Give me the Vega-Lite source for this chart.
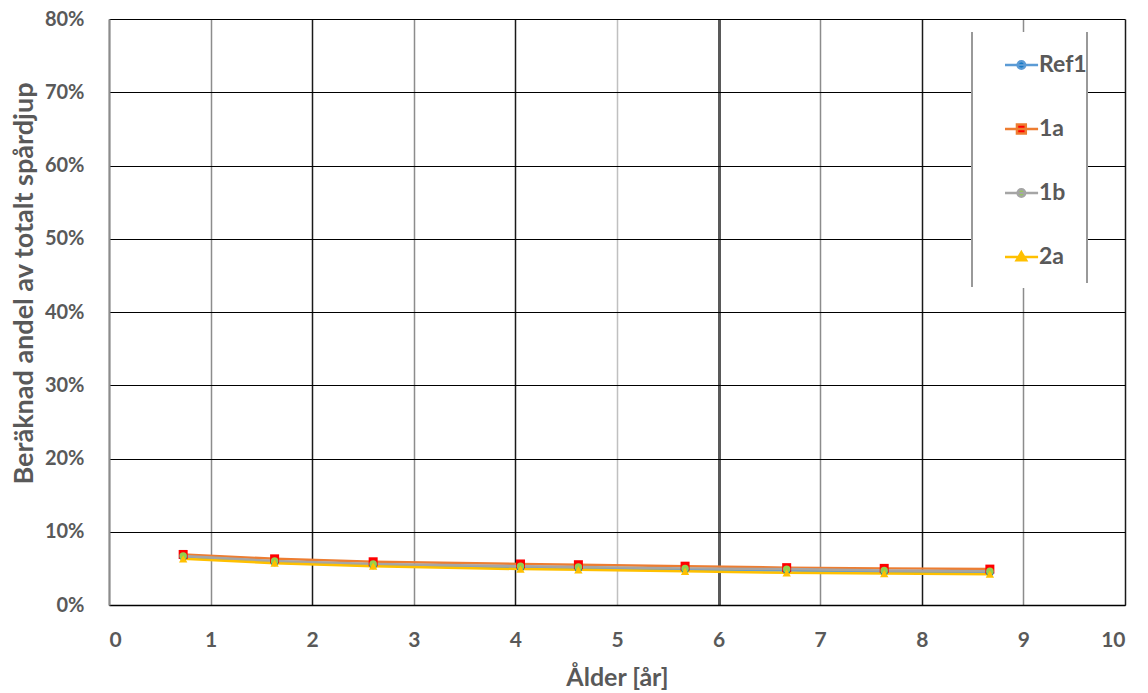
{
  "$schema": "https://vega.github.io/schema/vega-lite/v6.json",
  "width": 1016,
  "height": 586,
  "autosize": {"type": "none"},
  "padding": {"left": 109, "top": 19, "right": 23, "bottom": 88},
  "background": "white",
  "config": {
    "font": "Lato",
    "view": {"stroke": null},
    "axis": {"labelFont": "Lato", "titleFont": "Lato", "labelColor": "#595959", "titleColor": "#595959", "labelFontWeight": "bold", "titleFontWeight": "bold", "labelFontSize": 20, "ticks": false}
  },
  "data": {
    "values": [
      {"serie": "Ref1", "alder": 0.73, "andel": 0.066},
      {"serie": "Ref1", "alder": 1.63, "andel": 0.058},
      {"serie": "Ref1", "alder": 2.6, "andel": 0.054},
      {"serie": "Ref1", "alder": 4.05, "andel": 0.051},
      {"serie": "Ref1", "alder": 4.62, "andel": 0.050},
      {"serie": "Ref1", "alder": 5.67, "andel": 0.048},
      {"serie": "Ref1", "alder": 6.67, "andel": 0.047},
      {"serie": "Ref1", "alder": 7.63, "andel": 0.045},
      {"serie": "Ref1", "alder": 8.67, "andel": 0.044},
      {"serie": "1a", "alder": 0.73, "andel": 0.069},
      {"serie": "1a", "alder": 1.63, "andel": 0.063},
      {"serie": "1a", "alder": 2.6, "andel": 0.059},
      {"serie": "1a", "alder": 4.05, "andel": 0.056},
      {"serie": "1a", "alder": 4.62, "andel": 0.055},
      {"serie": "1a", "alder": 5.67, "andel": 0.053},
      {"serie": "1a", "alder": 6.67, "andel": 0.051},
      {"serie": "1a", "alder": 7.63, "andel": 0.050},
      {"serie": "1a", "alder": 8.67, "andel": 0.049},
      {"serie": "1b", "alder": 0.73, "andel": 0.067},
      {"serie": "1b", "alder": 1.63, "andel": 0.060},
      {"serie": "1b", "alder": 2.6, "andel": 0.056},
      {"serie": "1b", "alder": 4.05, "andel": 0.053},
      {"serie": "1b", "alder": 4.62, "andel": 0.052},
      {"serie": "1b", "alder": 5.67, "andel": 0.050},
      {"serie": "1b", "alder": 6.67, "andel": 0.049},
      {"serie": "1b", "alder": 7.63, "andel": 0.047},
      {"serie": "1b", "alder": 8.67, "andel": 0.046},
      {"serie": "2a", "alder": 0.73, "andel": 0.063},
      {"serie": "2a", "alder": 1.63, "andel": 0.057},
      {"serie": "2a", "alder": 2.6, "andel": 0.053},
      {"serie": "2a", "alder": 4.05, "andel": 0.049},
      {"serie": "2a", "alder": 4.62, "andel": 0.048},
      {"serie": "2a", "alder": 5.67, "andel": 0.046},
      {"serie": "2a", "alder": 6.67, "andel": 0.044},
      {"serie": "2a", "alder": 7.63, "andel": 0.043},
      {"serie": "2a", "alder": 8.67, "andel": 0.042}
    ]
  },
  "encoding": {
    "x": {
      "field": "alder", "type": "quantitative",
      "scale": {"domain": [0, 10], "nice": false},
      "axis": {
        "title": "Ålder [år]", "values": [0, 1, 2, 3, 4, 5, 6, 7, 8, 9, 10], "format": "d",
        "labelFontSize": 21, "labelPadding": 24,
        "titleFontSize": 25, "titleBaseline": "middle", "titleY": 72,
        "domainColor": "#000000", "domainWidth": 1.5,
        "grid": true,
        "gridColor": {"condition": [
          {"test": "datum.value === 6", "value": "#595959"},
          {"test": "datum.value === 5", "value": "#c0c0c0"},
          {"test": "datum.value % 2 === 0 && datum.value > 0", "value": "#1a1a1a"}
        ], "value": "#8c8c8c"},
        "gridWidth": {"condition": [
          {"test": "datum.value === 6", "value": 3}
        ], "value": 1.5}
      }
    },
    "y": {
      "field": "andel", "type": "quantitative",
      "scale": {"domain": [0, 0.8], "nice": false},
      "axis": {
        "title": "Beräknad andel av totalt spårdjup", "values": [0, 0.1, 0.2, 0.3, 0.4, 0.5, 0.6, 0.7, 0.8], "format": ".0%",
        "labelPadding": 25,
        "titleFontSize": 27, "titleBaseline": "middle", "titleX": -85, "titleY": 264,
        "domainColor": "#8c8c8c", "domainWidth": 2,
        "grid": true, "gridColor": "#000000", "gridWidth": 1
      }
    }
  },
  "layer": [
    {
      "mark": {"type": "line", "strokeWidth": 2.5},
      "encoding": {
        "stroke": {
          "field": "serie", "type": "nominal",
          "scale": {"domain": ["Ref1", "1a", "1b", "2a"], "range": ["#5B9BD5", "#ED7D31", "#A5A5A5", "#FFC000"]},
          "legend": {
            "title": null, "orient": "none", "legendX": 863, "legendY": 13,
            "padding": 0, "symbolOffset": 0, "symbolSize": 3969, "symbolStrokeWidth": 2.5,
            "rowPadding": 0, "labelOffset": 1,
            "labelFont": "Lato", "labelFontSize": 23, "labelFontWeight": "bold", "labelColor": "#595959",
            "fillColor": "white", "strokeColor": "#999999",
            "encode": {
              "legend": {"update": {"strokeDash": {"value": [0, 115, 251, 121, 300, 0]}, "strokeWidth": {"value": 2}}},
              "symbols": {
                "update": {
                  "shape": {"signal": "datum.value === '1a' ? 'M0.52,-0.8M0.52,0.8M0,0H1.05M0.38,-0.14H0.66V0.14H0.38Z' : datum.value === '2a' ? 'M0.52,-0.8M0.52,0.8M0,0H1.05M0.52,-0.15L0.67,0.1H0.37Z' : 'M0.52,-0.8M0.52,0.8M0,0H1.05M0.4,0A0.12,0.12 0 1,0 0.64,0A0.12,0.12 0 1,0 0.4,0Z'"},
                  "fill": {"signal": "datum.value === 'Ref1' ? '#0070C0' : datum.value === '1a' ? '#FF0000' : datum.value === '1b' ? '#92D050' : '#FFC000'"}
                }
              }
            }
          }
        },
        "detail": {"field": "serie"}
      }
    },
    {
      "transform": [{"filter": "datum.serie === '1a'"}],
      "mark": {"type": "point", "shape": "square", "filled": true, "opacity": 1, "size": 81, "fill": "#FF0000"}
    },
    {
      "transform": [{"filter": "datum.serie === 'Ref1'"}],
      "mark": {"type": "point", "shape": "circle", "filled": true, "opacity": 1, "size": 55, "fill": "#0070C0"}
    },
    {
      "transform": [{"filter": "datum.serie === '1b'"}],
      "mark": {"type": "point", "shape": "circle", "filled": true, "opacity": 1, "size": 55, "fill": "#92D050"}
    },
    {
      "transform": [{"filter": "datum.serie === '2a'"}],
      "mark": {"type": "point", "shape": "triangle-up", "filled": true, "opacity": 1, "size": 70, "fill": "#FFC000"}
    }
  ]
}
